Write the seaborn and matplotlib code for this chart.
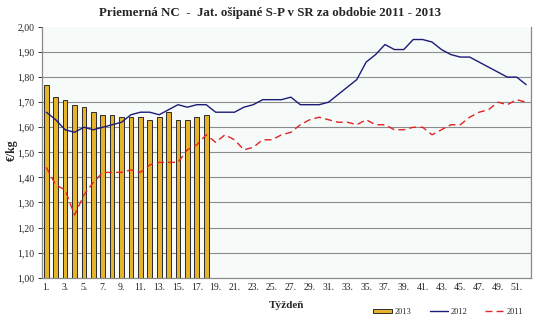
import numpy as np
import pandas as pd
import matplotlib
matplotlib.use("Agg")
import matplotlib.pyplot as plt
from matplotlib.ticker import FixedLocator, FuncFormatter
from matplotlib.patches import Patch
from matplotlib.lines import Line2D
import seaborn as sns

# Weekly average prices (EUR/kg), weeks 1..52
weeks = list(range(1, 53))

price_2013 = [1.77, 1.72, 1.71, 1.69, 1.68, 1.66, 1.65, 1.65, 1.64, 1.64,
              1.64, 1.63, 1.64, 1.66, 1.63, 1.63, 1.64, 1.65]

price_2012 = [1.66, 1.63, 1.59, 1.58, 1.60, 1.59, 1.60, 1.61, 1.62, 1.65,
              1.66, 1.66, 1.65, 1.67, 1.69, 1.68, 1.69, 1.69, 1.66, 1.66,
              1.66, 1.68, 1.69, 1.71, 1.71, 1.71, 1.72, 1.69, 1.69, 1.69,
              1.70, 1.73, 1.76, 1.79, 1.86, 1.89, 1.93, 1.91, 1.91, 1.95,
              1.95, 1.94, 1.91, 1.89, 1.88, 1.88, 1.86, 1.84, 1.82, 1.80,
              1.80, 1.77]

price_2011 = [1.44, 1.37, 1.35, 1.25, 1.33, 1.38, 1.42, 1.42, 1.42, 1.43,
              1.42, 1.45, 1.46, 1.46, 1.46, 1.51, 1.53, 1.57, 1.54, 1.57,
              1.55, 1.51, 1.52, 1.55, 1.55, 1.57, 1.58, 1.61, 1.63, 1.64,
              1.63, 1.62, 1.62, 1.61, 1.63, 1.61, 1.61, 1.59, 1.59, 1.60,
              1.60, 1.57, 1.59, 1.61, 1.61, 1.64, 1.66, 1.67, 1.70, 1.69,
              1.71, 1.70]

legend_labels = ["2013", "2012", "2011"]
title = "Priemerná NC  -  Jat. ošipané S-P v SR za obdobie 2011 - 2013"

bar_df = pd.DataFrame({"week": weeks[:len(price_2013)], "price": price_2013})
line_df = pd.DataFrame({"week": weeks, "y2012": price_2012, "y2011": price_2011})

sns.set_style("white")
plt.rcParams["font.family"] = ["Liberation Serif", "DejaVu Serif"]

fig = plt.figure(figsize=(5.4, 3.29), dpi=100)
ax = fig.add_axes([0.077, 0.156, 0.906, 0.762])
ax.set_facecolor("#f6faf8")

# horizontal grid
for v in np.arange(1.1, 2.0, 0.1):
    ax.axhline(v, color="#8c8c8c", lw=0.8, zorder=0)

sns.barplot(data=bar_df, x="week", y="price", native_scale=True, ax=ax,
            color="#e6b42a", edgecolor="#2a2a2a", linewidth=0.7,
            width=0.5, saturation=1, zorder=2)

sns.lineplot(data=line_df, x="week", y="y2012", ax=ax, color="#1c1c78",
             lw=1.0, zorder=3)
sns.lineplot(data=line_df, x="week", y="y2011", ax=ax, color="#e02424",
             lw=1.0, zorder=3, dashes=False, linestyle=(0, (5, 3)))

ax.set_xlim(0.5, 52.5)
ax.set_ylim(1.0, 2.0)

ax.set_yticks(np.arange(1.0, 2.01, 0.1))
ax.yaxis.set_major_formatter(FuncFormatter(lambda v, p: f"{v:.2f}".replace(".", ",")))
ax.set_xticks(weeks[::2])
ax.set_xticklabels([f"{w}." for w in weeks[::2]])
ax.xaxis.set_minor_locator(FixedLocator(np.arange(0.5, 53, 1.0)))
ax.tick_params(axis="x", which="major", length=0, labelsize=7, pad=4)
ax.tick_params(axis="x", which="minor", length=3, width=0.7, color="#333333",
               direction="out")
ax.tick_params(axis="y", which="major", length=3, width=0.7, color="#333333",
               direction="out", labelsize=7, pad=2, left=True)

for side in ["top", "right", "left", "bottom"]:
    ax.spines[side].set_visible(True)
    ax.spines[side].set_color("#8a8a8a")
    ax.spines[side].set_linewidth(0.9)
ax.spines["top"].set_visible(False)

ax.set_xlabel("")
ax.set_ylabel("")
fig.text(0.022, 0.545, "€/kg", ha="center", va="center", rotation=90,
         fontsize=8.5, fontweight="bold")
fig.text(0.53, 0.07, "Týždeň", ha="center", va="center", fontsize=8,
         fontweight="bold")
fig.text(0.5, 0.962, title, ha="center", va="center", fontsize=9.3,
         fontweight="bold")

handles = [
    Patch(facecolor="#e6b42a", edgecolor="#2a2a2a", linewidth=0.7),
    Line2D([0], [0], color="#1c1c78", lw=1.0),
    Line2D([0], [0], color="#e02424", lw=1.0, linestyle=(0, (5, 3))),
]
fig.legend(handles, legend_labels, loc="center", bbox_to_anchor=(0.83, 0.052),
           ncol=3, frameon=False, fontsize=6, handlelength=2.2,
           handleheight=0.5, columnspacing=2.2, handletextpad=0.3)

fig.savefig("out.png", dpi=100)
